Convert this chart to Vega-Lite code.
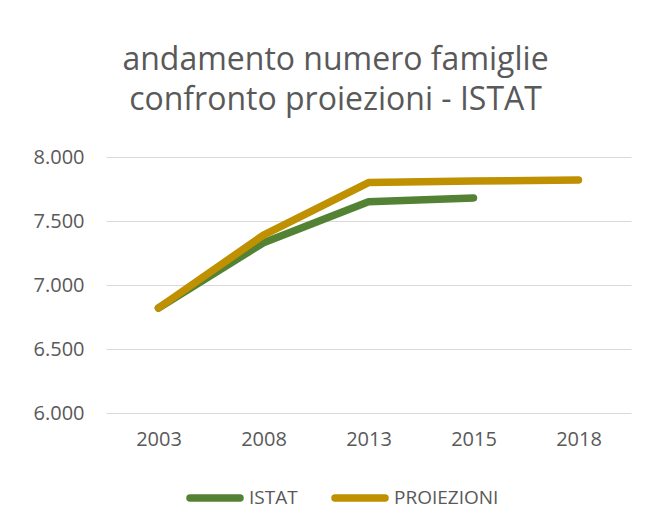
{
  "$schema": "https://vega.github.io/schema/vega-lite/v6.json",
  "width": 525,
  "height": 256,
  "autosize": {"type": "none"},
  "padding": {"left": 106, "top": 157, "right": 30, "bottom": 116},
  "background": "white",
  "title": {
    "text": ["andamento numero famiglie", "confronto proiezioni - ISTAT"],
    "anchor": "middle",
    "dx": -33,
    "offset": 30,
    "font": "Open Sans",
    "fontSize": 32,
    "fontWeight": "normal",
    "lineHeight": 40,
    "color": "#595959"
  },
  "data": {
    "values": [
      {"anno": "2003", "serie": "ISTAT", "valore": 6820},
      {"anno": "2008", "serie": "ISTAT", "valore": 7330},
      {"anno": "2013", "serie": "ISTAT", "valore": 7650},
      {"anno": "2015", "serie": "ISTAT", "valore": 7680},
      {"anno": "2003", "serie": "PROIEZIONI", "valore": 6820},
      {"anno": "2008", "serie": "PROIEZIONI", "valore": 7390},
      {"anno": "2013", "serie": "PROIEZIONI", "valore": 7800},
      {"anno": "2015", "serie": "PROIEZIONI", "valore": 7812},
      {"anno": "2018", "serie": "PROIEZIONI", "valore": 7820}
    ]
  },
  "mark": {"type": "line", "strokeWidth": 7.5, "strokeCap": "round", "strokeJoin": "round"},
  "encoding": {
    "x": {
      "field": "anno",
      "type": "ordinal",
      "sort": ["2003", "2008", "2013", "2015", "2018"],
      "scale": {"type": "point", "padding": 0.5},
      "axis": {
        "title": null,
        "domain": false,
        "ticks": false,
        "labelAngle": 0,
        "labelPadding": 16,
        "labelFont": "Open Sans",
        "labelFontSize": 20,
        "labelColor": "#595959"
      }
    },
    "y": {
      "field": "valore",
      "type": "quantitative",
      "scale": {"domain": [6000, 8000], "nice": false, "zero": false},
      "axis": {
        "title": null,
        "values": [6000, 6500, 7000, 7500, 8000],
        "format": ",d",
        "domain": false,
        "ticks": false,
        "labelPadding": 22,
        "labelFont": "Open Sans",
        "labelFontSize": 20,
        "labelColor": "#595959",
        "gridColor": "#d9d9d9",
        "gridWidth": 1.2
      }
    },
    "color": {
      "field": "serie",
      "type": "nominal",
      "scale": {"domain": ["ISTAT", "PROIEZIONI"], "range": ["#548235", "#bf9000"]},
      "legend": {
        "title": null,
        "orient": "none",
        "direction": "horizontal",
        "legendX": 80,
        "legendY": 312,
        "padding": 0,
        "symbolType": "stroke",
        "symbolSize": 2500,
        "symbolStrokeWidth": 7.5,
        "labelOffset": 5,
        "columnPadding": 22,
        "labelFont": "Open Sans",
        "labelFontSize": 19,
        "labelColor": "#595959",
        "encode": {"symbols": {"update": {"strokeCap": {"value": "round"}}}}
      }
    }
  },
  "config": {
    "view": {"stroke": null},
    "locale": {
      "number": {"decimal": ",", "thousands": ".", "grouping": [3], "currency": ["€", ""]}
    }
  }
}
